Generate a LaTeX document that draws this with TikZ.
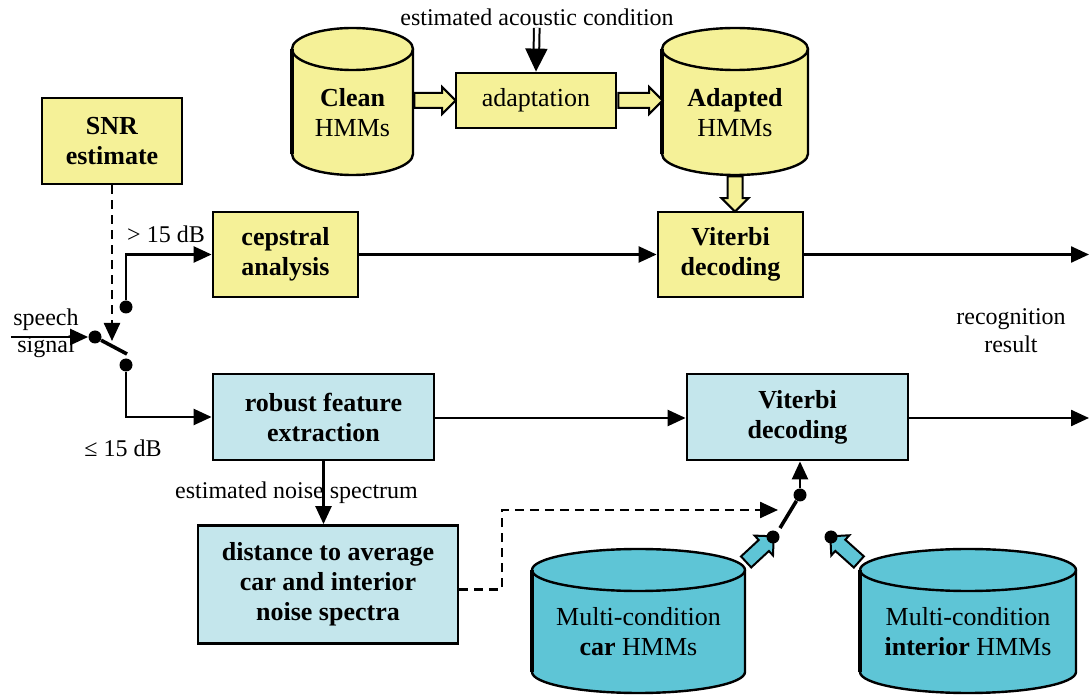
\documentclass[tikz,border=0pt]{standalone}
\usepackage{fontspec}
\setmainfont{Liberation Serif}
\usetikzlibrary{arrows.meta,calc,shapes.arrows}

\definecolor{paleyellow}{RGB}{245,241,152}
\definecolor{paleblue}{RGB}{196,230,236}
\definecolor{drumcyan}{RGB}{94,197,214}

% database drum: name, centre x, top y, bottom y, half width, colour, text
\newcommand\drum[7]{%
  \filldraw[fill=#6, line width=1.2pt] (#2-#5,-#3) -- (#2-#5,-#4)
    arc[start angle=180, end angle=360, x radius=#5, y radius=21] -- (#2+#5,-#3)
    arc[start angle=0, end angle=180, x radius=#5, y radius=21] -- cycle;
  \draw[line width=1.2pt] (#2-#5,-#3) arc[start angle=180, end angle=360, x radius=#5, y radius=21];
  \draw[line width=2.2pt] (#2-#5,-#3) -- (#2-#5,-#4);
  \node[inner sep=0pt, minimum width=#5pt, minimum height={(#4-#3+42)*0.5pt}] (#1) at (#2,{-(#3+#4)/2}) {};
  \node[drumtxt, yshift=-5.5pt] at (#1) {#7};
}
% hollow block arrow between two points
\newcommand\fatarrow[3]{%
  \path let \p1=(#1), \p2=(#2), \n1={veclen(\x2-\x1,\y2-\y1)}, \n2={atan2(\y2-\y1,\x2-\x1)} in
    (\p1) node[fatarr, fill=#3, minimum height=\n1, rotate=\n2, anchor=tail] {};
}

\begin{document}
\begin{tikzpicture}[x=0.5pt, y=0.5pt, >={Triangle[length=9pt,width=8pt]},
  box/.style={draw, line width=1.4pt, align=center, inner sep=0pt, font=\fontsize{13}{15}\selectfont\bfseries},
  drumtxt/.style={align=center, inner sep=0pt, font=\fontsize{13}{15}\selectfont},
  lbl/.style={align=center, inner sep=1pt, font=\fontsize{12}{14}\selectfont},
  wire/.style={line width=1.2pt},
  contact/.style={circle, fill, inner sep=0pt, minimum size=6.5pt},
  fatarr/.style={single arrow, draw, line width=1pt, inner xsep=0pt, inner ysep=3.25pt,
    minimum width=0pt, single arrow head extend=3pt, single arrow head indent=0pt}]

  \useasboundingbox (0,0) rectangle (1089,-695);

  % HMM databases
  \drum{clean}{352.5}{49}{154}{60.5}{paleyellow}{\textbf{Clean}\\HMMs}
  \drum{adapted}{735}{49}{154}{73}{paleyellow}{\textbf{Adapted}\\HMMs}
  \drum{car}{638.5}{570}{672}{106.5}{drumcyan}{Multi-condition\\\textbf{car} HMMs}
  \drum{interior}{968}{570}{672}{108}{drumcyan}{Multi-condition\\\textbf{interior} HMMs}

  % processing blocks
  \node[box, fill=paleyellow, minimum width=70pt, minimum height=43pt] (snr) at (112,-141) {SNR\\estimate};
  \node[box, fill=paleyellow, minimum width=80pt, minimum height=27.5pt, font=\fontsize{13}{15}\selectfont] (adapt) at (536,-100.5) {adaptation};
  \node[box, fill=paleyellow, minimum width=72.5pt, minimum height=42.5pt] (cep) at (285.5,-254.5) {cepstral\\analysis};
  \node[box, fill=paleyellow, minimum width=72.5pt, minimum height=42.5pt] (vityel) at (730.5,-254.5) {Viterbi\\decoding};
  \node[box, fill=paleblue, minimum width=110.5pt, minimum height=43pt] (robust) at (323.5,-417) {robust feature\\extraction};
  \node[box, fill=paleblue, minimum width=110.5pt, minimum height=43pt] (vitblu) at (797.5,-417) {Viterbi\\decoding};
  \node[box, fill=paleblue, minimum width=130pt, minimum height=59pt] (dist) at (328,-584.5) {distance to average\\car and interior\\noise spectra};

  % texts
  \node[lbl] (acn) at (537,-17) {estimated acoustic condition};
  \node[lbl, font=\fontsize{12}{13.5}\selectfont] (speech) at (46,-333) {speech\\signal};
  \node[lbl] (recog) at (1011,-331) {recognition\\result};
  \node[lbl] (hi) at (166,-234) {> 15 dB};
  \node[lbl] (lo) at (123,-448) {≤ 15 dB};

  % hollow arrows
  \fatarrow{clean.east |- adapt.west}{adapt.west}{paleyellow}
  \fatarrow{adapt.east}{adapted.west |- adapt.east}{paleyellow}
  \fatarrow{adapted.south}{adapted.south |- vityel.north}{paleyellow}
  \fatarrow{[yshift=-7pt]car.north east}{773,-537}{drumcyan}
  \fatarrow{[yshift=-7pt]interior.north west}{831,-537}{drumcyan}

  % switch contacts
  \node[contact] (sw) at (95,-337) {};
  \node[contact] (up) at (126,-307) {};
  \node[contact] (dn) at (126,-365) {};
  \coordinate (arm) at (127,-354);
  \coordinate (armtip) at (112,-341);
  \node[contact] (sel) at (800,-495) {};
  \node[contact] (carpin) at (773,-537) {};
  \node[contact] (intpin) at (831,-537) {};
  \coordinate (selarm) at (780,-528);
  \coordinate (seltip) at (778,-510);
  \coordinate (bend) at (502,-510);
  \coordinate (outA) at (1089,-254.5);
  \coordinate (outB) at (1089,-418);

  % connections
  \draw[double, double distance=1.8pt, line width=1pt, -{Triangle[length=11.5pt,width=11pt]}] (acn) -- (adapt.north);
  \draw[wire, ->] (speech.west |- sw) -- (sw);
  \draw[wire, line width=1.8pt] (sw) -- (arm);
  \draw[wire, dash pattern=on 4.5pt off 3pt, ->] (snr.south) -- (snr.south |- armtip);
  \draw[wire, ->] (up) |- (cep.west);
  \draw[wire, ->] (dn) |- (robust.west);
  \draw[wire, ->] (cep) -- (vityel);
  \draw[wire, ->] (vityel) -- (outA);
  \draw[wire, ->] (robust.east |- outB) -- (vitblu.west |- outB);
  \draw[wire, ->] (vitblu.east |- outB) -- (outB);
  \draw[wire, ->] (robust.south) -- node[lbl, xshift=-13.5pt] {estimated noise spectrum} (robust.south |- dist.north);
  \draw[wire, dash pattern=on 4.5pt off 3pt, ->] ([yshift=-2.5pt]dist.east) -| (bend) -- (seltip);
  \draw[wire, line width=1.8pt] (sel) -- (selarm);
  \draw[wire, ->] (sel) -- (sel |- vitblu.south);

\end{tikzpicture}
\end{document}
